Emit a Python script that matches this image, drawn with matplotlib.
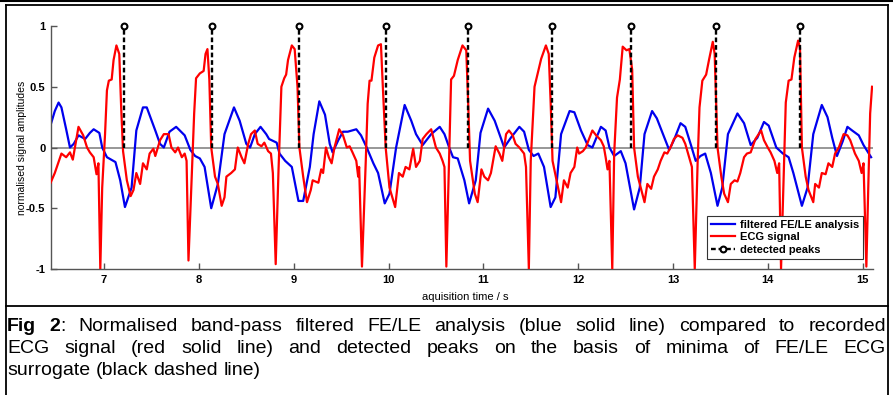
import matplotlib
matplotlib.use('Agg')
import matplotlib.pyplot as plt
from matplotlib.lines import Line2D
from matplotlib import font_manager

# ---------------- data ----------------
blue_t = [6.43, 6.48, 6.52, 6.55, 6.60, 6.64, 6.68, 6.73, 6.80, 6.85, 6.89, 6.95, 6.98,
          7.03, 7.12, 7.17, 7.22, 7.29, 7.34, 7.41, 7.45, 7.54, 7.59, 7.63, 7.69, 7.76,
          7.85, 7.91, 7.96, 8.01, 8.06, 8.13, 8.20, 8.27, 8.37, 8.43, 8.50, 8.54, 8.59,
          8.65, 8.71, 8.74, 8.82, 8.85, 8.91, 8.98, 9.05, 9.10, 9.17, 9.21, 9.27, 9.33,
          9.38, 9.41, 9.47, 9.52, 9.57, 9.66, 9.71, 9.77, 9.84, 9.89, 9.96, 10.01, 10.08,
          10.17, 10.24, 10.29, 10.36, 10.45, 10.54, 10.59, 10.64, 10.68, 10.73, 10.80,
          10.85, 10.92, 10.97, 11.05, 11.12, 11.22, 11.29, 11.38, 11.43, 11.48, 11.53,
          11.58, 11.64, 11.71, 11.76, 11.82, 11.91, 11.96, 12.03, 12.10, 12.15, 12.24,
          12.29, 12.33, 12.38, 12.45, 12.50, 12.59, 12.65, 12.70, 12.78, 12.83, 12.91,
          12.96, 13.01, 13.08, 13.13, 13.19, 13.24, 13.29, 13.34, 13.40, 13.47, 13.52,
          13.58, 13.68, 13.75, 13.82, 13.89, 13.96, 14.01, 14.09, 14.16, 14.22, 14.27,
          14.36, 14.42, 14.48, 14.57, 14.63, 14.68, 14.73, 14.79, 14.84, 14.89, 14.96,
          15.01, 15.09]
blue_v = [0.17, 0.30, 0.37, 0.33, 0.15, 0.00, 0.03, 0.10, 0.07, 0.12, 0.15, 0.12, 0.00,
          -0.08, -0.12, -0.27, -0.49, -0.33, 0.14, 0.33, 0.33, 0.14, 0.03, 0.00, 0.13, 0.17,
          0.10, -0.02, -0.07, -0.09, -0.16, -0.50, -0.30, 0.11, 0.33, 0.22, 0.03, 0.00, 0.11,
          0.17, 0.11, 0.07, 0.04, -0.05, -0.11, -0.16, -0.44, -0.44, -0.16, 0.11, 0.38, 0.27,
          0.03, -0.04, 0.06, 0.13, 0.13, 0.15, 0.10, 0.00, -0.13, -0.21, -0.46, -0.38, 0.00,
          0.35, 0.22, 0.11, 0.02, 0.11, 0.17, 0.11, 0.00, -0.08, -0.09, -0.27,
          -0.46, -0.27, 0.12, 0.32, 0.22, 0.00, 0.08, 0.17, 0.13, -0.02, -0.07,
          -0.05, -0.16, -0.49, -0.41, 0.11, 0.30, 0.29, 0.14, 0.02, 0.00, 0.17,
          0.14, 0.00, -0.07, -0.03, -0.13, -0.51, -0.33, 0.11, 0.30, 0.24, 0.08,
          -0.02, 0.06, 0.20, 0.17, 0.02, -0.11, -0.07, -0.05, -0.21, -0.48, -0.33,
          0.11, 0.28, 0.20, 0.02, 0.08, 0.21, 0.18, 0.00, -0.05, -0.08, -0.21,
          -0.48, -0.33, 0.11, 0.35, 0.25, 0.08, -0.07, 0.05, 0.17, 0.14, 0.10,
          0.02, -0.08]

red_t = [6.43, 6.48, 6.55, 6.60, 6.64, 6.67, 6.73, 6.78, 6.82, 6.85, 6.89, 6.92, 6.94,
         6.96, 6.98, 7.01, 7.03, 7.05, 7.08, 7.10, 7.13, 7.16, 7.18, 7.20, 7.24, 7.28,
         7.31, 7.34, 7.38, 7.41, 7.45, 7.48, 7.52, 7.54, 7.59, 7.63, 7.68, 7.71, 7.75,
         7.78, 7.82, 7.85, 7.87, 7.89, 7.92, 7.95, 7.97, 8.01, 8.05, 8.07, 8.09, 8.11,
         8.13, 8.17, 8.20, 8.24, 8.27, 8.29, 8.34, 8.38, 8.41, 8.45, 8.48, 8.52, 8.55,
         8.59, 8.62, 8.66, 8.69, 8.73, 8.76, 8.78, 8.81, 8.84, 8.87, 8.90, 8.92, 8.94,
         8.98, 9.01, 9.04, 9.06, 9.10, 9.14, 9.18, 9.20, 9.26, 9.29, 9.31, 9.34, 9.37,
         9.40, 9.43, 9.48, 9.52, 9.56, 9.59, 9.62, 9.66, 9.68, 9.69, 9.72, 9.76, 9.78,
         9.80, 9.82, 9.85, 9.89, 9.92, 9.94, 9.97, 10.01, 10.07, 10.11, 10.15, 10.18,
         10.22, 10.26, 10.29, 10.33, 10.36, 10.40, 10.45, 10.50, 10.54, 10.57, 10.59,
         10.61, 10.64, 10.66, 10.69, 10.73, 10.78, 10.82, 10.84, 10.86, 10.91, 10.94,
         10.98, 11.01, 11.05, 11.08, 11.13, 11.17, 11.20, 11.24, 11.27, 11.31, 11.34,
         11.38, 11.43, 11.45, 11.48, 11.50, 11.54, 11.57, 11.61, 11.66, 11.69, 11.71,
         11.73, 11.78, 11.82, 11.85, 11.89, 11.92, 11.96, 11.99, 12.01, 12.05, 12.08,
         12.12, 12.15, 12.19, 12.24, 12.27, 12.29, 12.31, 12.33, 12.36, 12.38, 12.41,
         12.44, 12.47, 12.51, 12.54, 12.57, 12.59, 12.63, 12.66, 12.70, 12.73, 12.77,
         12.80, 12.84, 12.87, 12.91, 12.94, 12.98, 13.01, 13.05, 13.10, 13.13, 13.17,
         13.20, 13.23, 13.26, 13.28, 13.31, 13.35, 13.38, 13.42, 13.44, 13.47, 13.51,
         13.54, 13.58, 13.61, 13.65, 13.68, 13.71, 13.75, 13.78, 13.82, 13.87, 13.93,
         13.96, 14.00, 14.03, 14.07, 14.10, 14.12, 14.14, 14.17, 14.19, 14.22, 14.25,
         14.28, 14.32, 14.34, 14.36, 14.40, 14.43, 14.48, 14.50, 14.54, 14.57, 14.61,
         14.64, 14.68, 14.71, 14.75, 14.80, 14.84, 14.87, 14.92, 14.96, 14.99, 15.01,
         15.04, 15.06, 15.08, 15.10]
red_v = [-0.30, -0.21, -0.05, -0.08, -0.04, -0.10, 0.17, 0.10, 0.00, -0.04, -0.08, -0.22, -0.13,
         -1.00, -0.33, 0.11, 0.47, 0.55, 0.56, 0.72, 0.84, 0.77, 0.33, -0.03, -0.27, -0.40,
         -0.35, -0.21, -0.30, -0.13, -0.18, -0.05, -0.01, -0.07, 0.06, 0.11, 0.11, 0.00, -0.04,
         0.00, -0.08, -0.05, -0.11, -0.93, -0.33, 0.28, 0.57, 0.61, 0.63, 0.77, 0.81, 0.56,
         0.00, -0.24, -0.30, -0.48, -0.41, -0.24, -0.21, -0.18, 0.00, -0.08, -0.13, 0.03, 0.11,
         0.14, 0.03, 0.01, 0.04, -0.03, -0.05, -0.21, -0.96, -0.18, 0.50, 0.57, 0.60, 0.72,
         0.84, 0.81, 0.50, 0.00, -0.24, -0.45, -0.35, -0.27, -0.29, -0.18, -0.21, 0.00, -0.08,
         -0.13, 0.00, 0.15, 0.10, 0.00, 0.01, -0.04, -0.11, -0.24, -0.16, -0.98, -0.11, 0.36,
         0.55, 0.55, 0.74, 0.84, 0.85, 0.50, 0.00, -0.33, -0.49, -0.21, -0.24, -0.16,
         -0.18, -0.01, -0.16, -0.11, 0.07, 0.11, 0.15, 0.00, -0.05, -0.11, -0.16,
         -0.98, -0.05, 0.56, 0.59, 0.72, 0.84, 0.80, 0.37, -0.11, -0.38, -0.45,
         -0.18, -0.24, -0.27, -0.21, 0.01, -0.05, -0.11, 0.11, 0.14, 0.10, 0.03,
         0.00, -0.05, -0.16, -1.00, -0.11, 0.50, 0.60, 0.73, 0.84, 0.77, 0.37,
         -0.11, -0.30, -0.45, -0.27, -0.33, -0.21, -0.16, 0.00, -0.05, -0.03, 0.00,
         0.08, 0.14, 0.10, 0.06, 0.01, -0.08, -0.18, -0.11, -1.00, -0.05, 0.41,
         0.56, 0.83, 0.80, 0.81, 0.64, 0.00, -0.24, -0.33, -0.45, -0.30, -0.34,
         -0.24, -0.18, -0.11, -0.04, -0.05, 0.01, 0.07, 0.10, 0.08, 0.03, -0.08,
         -0.16, -1.00, -0.13, 0.33, 0.55, 0.60, 0.72, 0.87, 0.77, 0.00, -0.24,
         -0.38, -0.45, -0.30, -0.27, -0.28, -0.21, -0.08, -0.05, -0.04, 0.07, 0.14,
         0.06, 0.00, -0.04, -0.11, -0.21, -0.13, -1.00, -0.18, 0.37, 0.55, 0.56,
         0.74, 0.88, 0.82, 0.00, -0.24, -0.35, -0.45, -0.30, -0.33, -0.21, -0.22,
         -0.13, -0.16, -0.05, 0.00, 0.11, 0.10, 0.06, -0.05, -0.11, -0.21, -0.13,
         -0.98, -0.33, 0.28, 0.50]

peak_t = [7.21, 8.14, 9.06, 9.97, 10.84, 11.72, 12.56, 13.45, 14.34]

x_ticks = [7, 8, 9, 10, 11, 12, 13, 14, 15]
y_ticks = [-1, -0.5, 0, 0.5, 1]
y_tick_labels = ['-1', '-0.5', '0', '0.5', '1']

legend_labels = ['filtered FE/LE analysis', 'ECG signal', 'detected peaks']
x_label = 'aquisition time / s'
y_label = 'normalised signal amplitudes'
caption_lines = [
    [[('Fig', 'bold')], [('2', 'bold'), (':', 'normal')], 'Normalised', 'band-pass', 'filtered',
     'FE/LE', 'analysis', '(blue', 'solid', 'line)', 'compared', 'to', 'recorded'],
    ['ECG', 'signal', '(red', 'solid', 'line)', 'and', 'detected', 'peaks', 'on', 'the',
     'basis', 'of', 'minima', 'of', 'FE/LE', 'ECG'],
    ['surrogate', '(black', 'dashed', 'line)'],
]

# ---------------- figure ----------------
W, H = 893, 395
available = {f.name for f in font_manager.fontManager.ttflist}
AXFONT = 'Liberation Sans' if 'Liberation Sans' in available else 'DejaVu Sans'
CAPFONT, CAPFS = AXFONT, 14

plt.rcParams['font.family'] = [AXFONT, 'DejaVu Sans']

fig = plt.figure(figsize=(W / 100, H / 100), dpi=100)
fig.patch.set_facecolor('white')
ax = fig.add_axes([51 / W, 1 - 269 / H, (873 - 51) / W, (269 - 26) / H])

ax.axhline(0, color='#7a7a7a', lw=1.1, zorder=1)
ax.plot(blue_t, blue_v, color='#0000ee', lw=1.6, label=legend_labels[0], zorder=2,
        solid_joinstyle='round')
ax.plot(red_t, red_v, color='#ff0000', lw=1.6, label=legend_labels[1], zorder=3,
        solid_joinstyle='round')
for i, p in enumerate(peak_t):
    ax.plot([p, p], [0, 1], color='black', ls=(0, (2.0, 1.2)), lw=1.7, marker='o',
            markevery=[1], ms=4.2, mfc='white', mec='black', mew=1.5, zorder=4,
            clip_on=False, label=legend_labels[2] if i == 0 else None)

ax.set_xlim(6.44, 15.11)
ax.set_ylim(-1, 1)
ax.set_xticks(x_ticks)
ax.set_xticklabels([str(v) for v in x_ticks])
ax.set_yticks(y_ticks)
ax.set_yticklabels(y_tick_labels)
for s in ['top', 'right']:
    ax.spines[s].set_visible(False)
for s in ['left', 'bottom']:
    ax.spines[s].set_color('#555555')
    ax.spines[s].set_linewidth(1.0)
ax.tick_params(direction='in', length=4, width=1, color='#555555', labelsize=8, pad=4)
for lab in ax.get_xticklabels() + ax.get_yticklabels():
    lab.set_fontweight('bold')

fig.text(22 / W, 1 - 148 / H, y_label, rotation=90, ha='center', va='center', fontsize=7.5)
fig.text(465 / W, 1 - 297 / H, x_label, ha='center', va='center', fontsize=8)

leg = ax.legend(loc='lower right', bbox_to_anchor=(863 / W, 1 - 259 / H),
                bbox_transform=fig.transFigure, borderaxespad=0, fancybox=False,
                framealpha=1, edgecolor='#333333', handlelength=2.2, handletextpad=0.4,
                borderpad=0.35, labelspacing=0.25, numpoints=1,
                prop={'weight': 'bold', 'size': 8})
leg.get_frame().set_linewidth(0.8)

# ---------------- frame around figure + caption box ----------------
def fline(x0, y0, x1, y1, lw=1.3):
    fig.add_artist(Line2D([x0 / W, x1 / W], [1 - y0 / H, 1 - y1 / H],
                          transform=fig.transFigure, color='black', lw=lw))

fline(0, 0.6, W, 0.6, lw=1.5)
fline(5.5, 4.6, 887.5, 4.6)
fline(5.5, 4.6, 5.5, H)
fline(887.5, 4.6, 887.5, H)
fline(5.5, 306, 887.5, 306)

# ---------------- justified caption ----------------
renderer = fig.canvas.get_renderer()

def token_parts(tok):
    if isinstance(tok, str):
        return [(tok, 'normal')]
    return tok

space_txt = fig.text(0, 0, 'a a', fontsize=CAPFS, family=CAPFONT)
aa_txt = fig.text(0, 0, 'aa', fontsize=CAPFS, family=CAPFONT)
space_w = space_txt.get_window_extent(renderer).width - aa_txt.get_window_extent(renderer).width
space_txt.remove()
aa_txt.remove()

def draw_line(tokens, y_base, x0, x1, justify):
    objs, widths = [], []
    for tok in tokens:
        parts, w = [], 0.0
        for s, wt in token_parts(tok):
            t = fig.text(0, 0, s, fontsize=CAPFS, fontweight=wt, family=CAPFONT,
                         va='baseline', ha='left')
            pw = t.get_window_extent(renderer).width
            parts.append((t, pw))
            w += pw
        objs.append(parts)
        widths.append(w)
    gap = (x1 - x0 - sum(widths)) / (len(tokens) - 1) if justify else space_w
    x = x0
    for parts in objs:
        for t, pw in parts:
            t.set_position((x / W, 1 - y_base / H))
            x += pw
        x += gap

caption_base = [331, 353, 375]
for k, toks in enumerate(caption_lines):
    draw_line(toks, caption_base[k], 7, 886, justify=(k < 2))

fig.savefig('out.png', dpi=100, facecolor='white')
